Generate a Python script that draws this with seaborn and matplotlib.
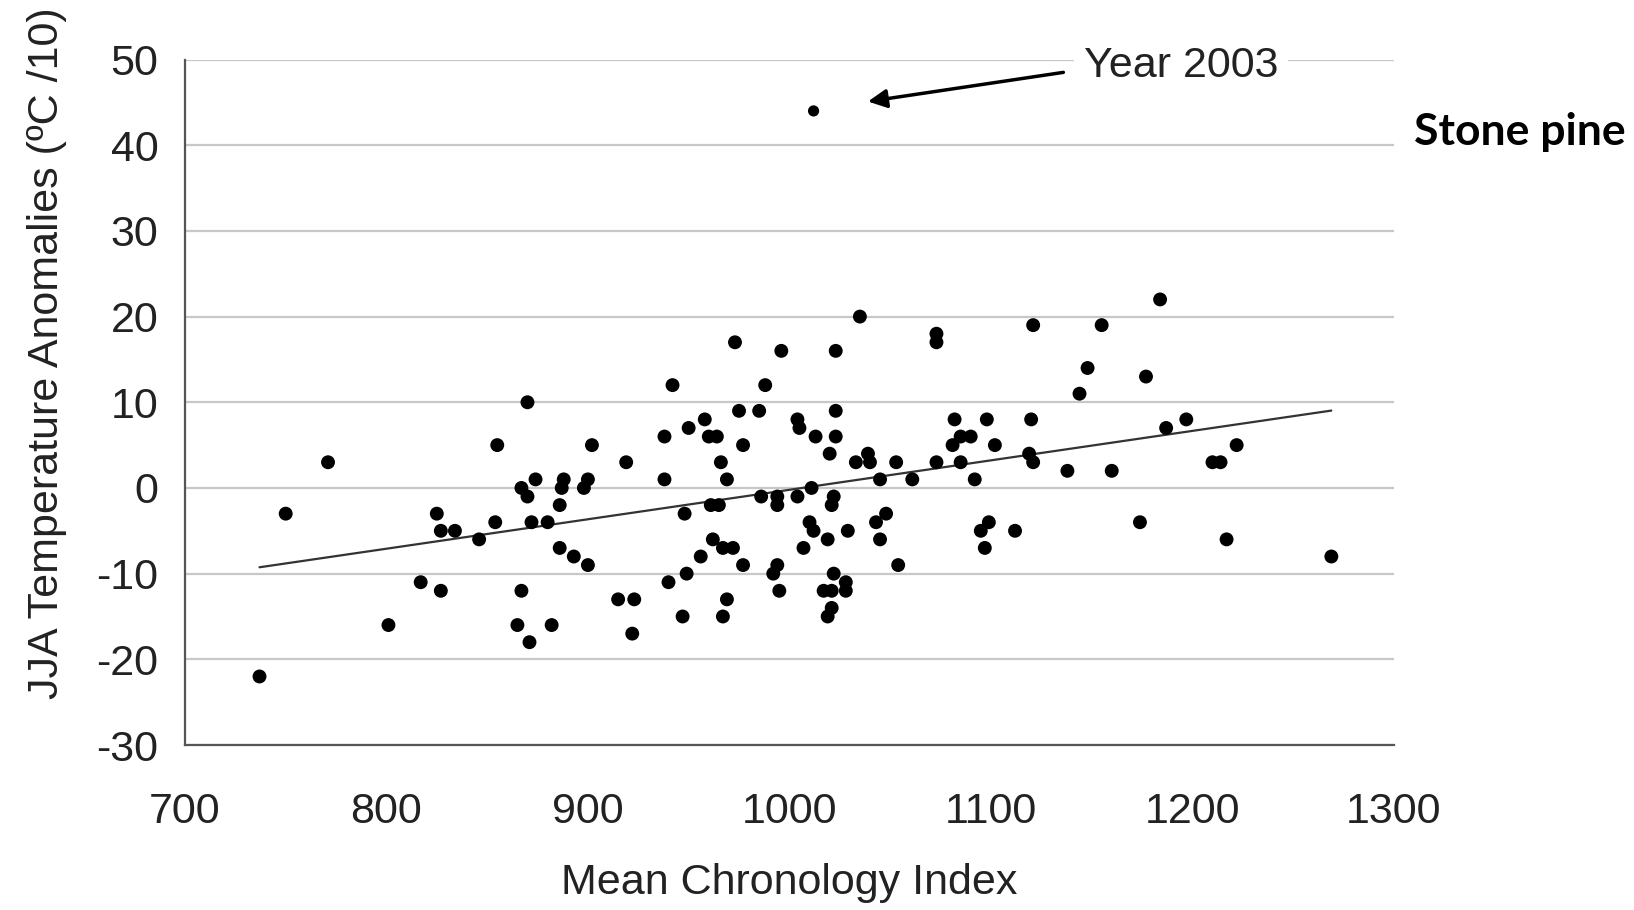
import matplotlib
matplotlib.use("Agg")
import matplotlib.pyplot as plt
import seaborn as sns
import numpy as np
import pandas as pd

# Mean chronology index (x) and JJA temperature anomalies (y, degC/10)
chron_index = [
    737, 750, 771, 801, 817, 825, 827, 827, 834, 846, 854, 855, 865, 867, 867,
    870, 870, 871, 872, 874, 880, 882, 886, 886, 887, 888, 893, 898, 900, 900,
    902,
    919, 915, 923, 922, 938, 938, 942, 940, 948, 949, 947, 950, 958, 956, 960,
    964, 961, 965, 962, 966, 969, 967, 972, 969, 967, 973, 975, 977, 977, 985,
    986, 988, 994, 994, 994, 992, 995, 996, 1004, 1005, 1004, 1011, 1010, 1012,
    1007, 1013, 1020, 1023, 1023, 1023, 1022, 1021, 1019, 1022, 1017, 1021,
    1021, 1019, 1028, 1028, 1029, 1033, 1035, 1039, 1040, 1045, 1043, 1048,
    1045, 1053, 1054, 1061, 1073, 1073, 1073, 1082, 1085, 1090, 1081, 1085,
    1092, 1098, 1102, 1099, 1095, 1097, 1112,
    1184, 1121, 1155, 1148, 1144, 1177, 1120, 1187, 1197, 1119, 1121, 1138,
    1160, 1210, 1214, 1222, 1174, 1217, 1269,
]
jja_anomaly = [
    -22, -3, 3, -16, -11, -3, -12, -5, -5, -6, -4, 5, -16, -12, 0,
    10, -1, -18, -4, 1, -4, -16, -2, -7, 0, 1, -8, 0, 1, -9,
    5,
    3, -13, -13, -17, 6, 1, 12, -11, -3, -10, -15, 7, 8, -8, 6,
    6, -2, -2, -6, 3, 1, -7, -7, -13, -15, 17, 9, 5, -9, 9,
    -1, 12, -1, -2, -9, -10, -12, 16, 8, 7, -1, 0, -4, -5,
    -7, 6, 4, 6, 9, 16, -1, -2, -6, -10, -12, -12,
    -14, -15, -11, -12, -5, 3, 20, 4, 3, 1, -4, -3,
    -6, 3, -9, 1, 18, 17, 3, 8, 6, 6, 5, 3,
    1, 8, 5, -4, -5, -7, -5,
    22, 19, 19, 14, 11, 13, 8, 7, 8, 4, 3, 2,
    2, 3, 3, 5, -4, -6, -8,
]
# Year 2003 outlier
year2003_x = [1012]
year2003_y = [44]

x_ticks = [700, 800, 900, 1000, 1100, 1200, 1300]
y_ticks = [-30, -20, -10, 0, 10, 20, 30, 40, 50]

df = pd.DataFrame({"x": chron_index + year2003_x, "y": jja_anomaly + year2003_y})
df_main = pd.DataFrame({"x": chron_index, "y": jja_anomaly})
df_2003 = pd.DataFrame({"x": year2003_x, "y": year2003_y})

sns.set_style("white")
plt.rcParams["font.family"] = ["Liberation Sans", "DejaVu Sans"]
plt.rcParams["axes.unicode_minus"] = False

fig = plt.figure(figsize=(16.34, 9.10), dpi=100)
ax = fig.add_axes([0.1132, 0.1813, 0.7398, 0.7533])

ax.set_xlim(700, 1300)
ax.set_ylim(-30, 50)
ax.set_yticks(y_ticks)
ax.set_xticks(x_ticks)
ax.yaxis.grid(True, color="#c8c8c8", lw=1.6, zorder=0)
ax.xaxis.grid(False)
ax.set_axisbelow(True)

sns.regplot(data=df, x="x", y="y", scatter=False, ci=None, truncate=True,
            line_kws=dict(color="#333333", lw=1.6), ax=ax)
sns.scatterplot(data=df_main, x="x", y="y", color="black", s=100,
                edgecolor="none", ax=ax, zorder=3)
sns.scatterplot(data=df_2003, x="x", y="y", color="black", s=65,
                edgecolor="none", ax=ax, zorder=3)

for side in ["top", "right"]:
    ax.spines[side].set_visible(False)
for side in ["left", "bottom"]:
    ax.spines[side].set_color("#555555")
    ax.spines[side].set_linewidth(1.6)

ax.tick_params(axis="both", which="both", direction="out", length=10,
               width=1.6, color="#555555", labelsize=31, labelcolor="#222222")
ax.tick_params(axis="y", pad=9)
ax.tick_params(axis="x", pad=24)

ax.set_xlabel("Mean Chronology Index", fontsize=31, color="#222222", labelpad=22)
ax.set_ylabel("JJA Temperature Anomalies (ºC /10)", fontsize=31, color="#222222")
ax.yaxis.set_label_coords(-0.098, 0.572)

ax.text(1146, 49.3, "Year 2003", fontsize=31, color="#222222", ha="left",
        va="center", bbox=dict(facecolor="white", edgecolor="none", pad=7),
        zorder=4)
ax.annotate("", xy=(1039, 45.1), xytext=(1136, 48.5),
            arrowprops=dict(arrowstyle="-|>", color="black", lw=2.5,
                            mutation_scale=28, shrinkA=0, shrinkB=0),
            zorder=4)

fig.text(1414 / 1634, 1 - 132 / 910, "Stone pine", fontsize=32,
         fontweight="bold", family=["Lato", "DejaVu Sans"], ha="left",
         va="center", color="black")

fig.savefig("out.png", dpi=100)
